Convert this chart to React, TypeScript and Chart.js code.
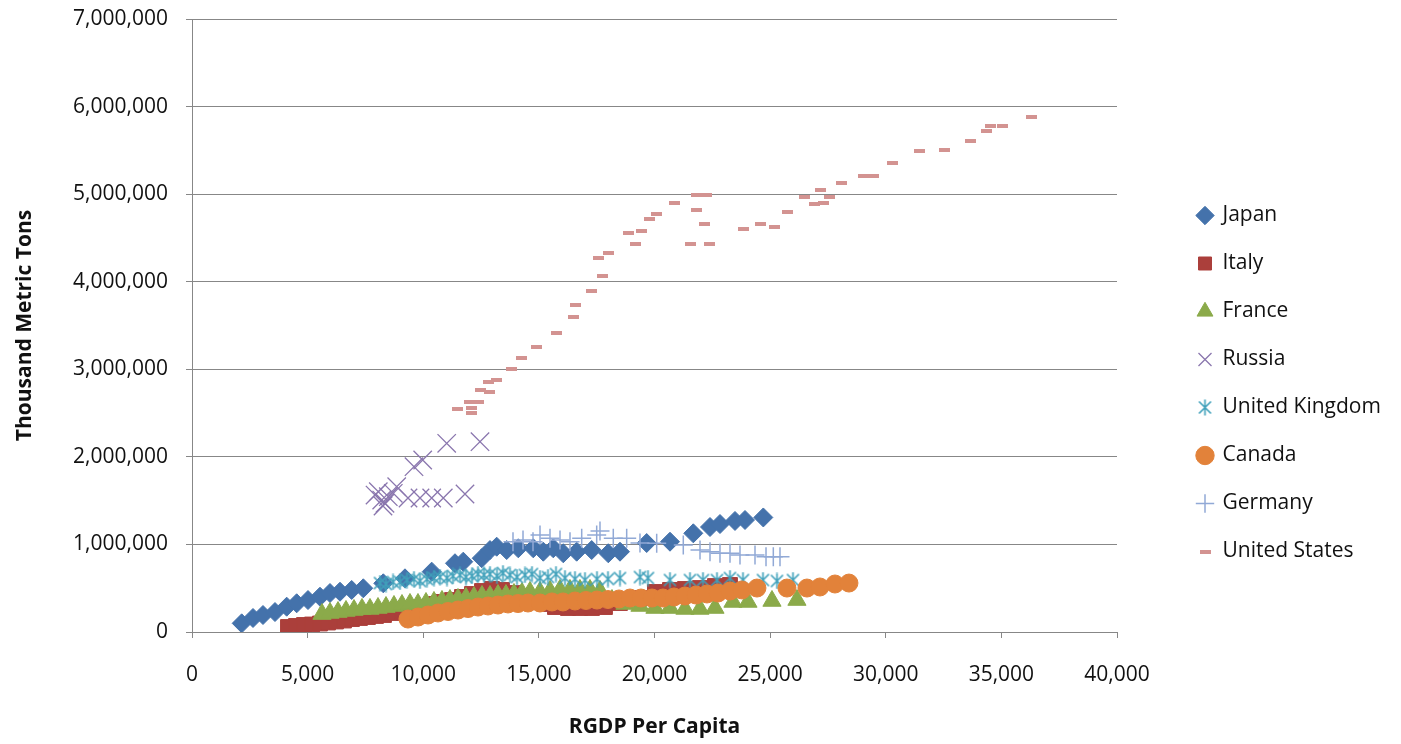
import { useEffect, useRef } from 'react';
import { Chart, registerables } from 'chart.js';

Chart.register(...registerables);

const FONT = '"Open Sans", "DejaVu Sans", sans-serif';

const seriesNames = ['Japan', 'Italy', 'France', 'Russia', 'United Kingdom', 'Canada', 'Germany', 'United States'];

const japanGdp = [2149, 2638, 3070, 3589, 4095, 4527, 5016, 5535, 5967, 6400, 6905, 7407, 8272, 9210, 10365, 11372, 11731, 12527, 12886, 13176, 13608, 14110, 14758, 15191, 15623, 16056, 16635, 17284, 18002, 18508, 19662, 20670, 21678, 22400, 22832, 23481, 23914, 24706];
const japanCo2 = [99000, 160000, 194000, 228000, 289000, 328000, 365000, 403000, 445000, 460000, 480000, 499000, 556000, 613000, 689000, 785000, 803000, 842000, 936000, 974000, 936000, 956000, 956000, 917000, 956000, 899000, 917000, 936000, 899000, 917000, 1016000, 1031000, 1127000, 1199000, 1233000, 1268000, 1279000, 1308000];

const italyGdp = [4151, 4497, 4843, 5189, 5535, 5881, 6227, 6572, 6918, 7264, 7610, 7956, 8302, 8691, 9080, 9513, 9945, 10378, 10810, 11242, 11675, 12107, 12540, 12972, 13404, 13967, 14615, 15264, 15696, 16258, 16777, 17296, 17858, 18507, 19372, 20020, 20669, 21318, 21966, 22615, 23264];
const italyCo2 = [57000, 68500, 80000, 85600, 97000, 108500, 120000, 131000, 148000, 160000, 171000, 183000, 194000, 217000, 240000, 263000, 285000, 320000, 343000, 365000, 400000, 434000, 468000, 491000, 480000, 445000, 388000, 320000, 285000, 274000, 274000, 274000, 285000, 331000, 388000, 457000, 480000, 491000, 502000, 525000, 537000];

const franceGdp = [5621, 5967, 6313, 6659, 7005, 7351, 7697, 8043, 8389, 8734, 9080, 9426, 9772, 10118, 10464, 10810, 11156, 11502, 11848, 12194, 12540, 12886, 13231, 13577, 13923, 14269, 14615, 15048, 15480, 15912, 16345, 16777, 17210, 17642, 18161, 18723, 19372, 20020, 20669, 21317, 21966, 22615, 23393, 24042, 25080, 26160];
const franceCo2 = [205000, 217000, 228000, 240000, 251000, 263000, 263000, 274000, 285000, 297000, 308000, 320000, 320000, 331000, 343000, 354000, 365000, 377000, 388000, 400000, 411000, 411000, 422000, 422000, 434000, 445000, 457000, 457000, 468000, 480000, 480000, 480000, 480000, 468000, 365000, 320000, 297000, 274000, 274000, 263000, 263000, 274000, 343000, 343000, 354000, 365000];

const russiaGdp = [7914, 8056, 8203, 8260, 8346, 8489, 8705, 8852, 9341, 9600, 9860, 9976, 10365, 10867, 11014, 11805, 12454];
const russiaCo2 = [1564000, 1602000, 1507000, 1439000, 1470000, 1545000, 1584000, 1659000, 1530000, 1888000, 1530000, 1964000, 1530000, 1530000, 2155000, 1576000, 2173000];

const ukGdp = [8129, 8389, 8692, 8994, 9297, 9600, 9859, 10161, 10464, 10724, 11026, 11286, 11589, 11848, 12108, 12367, 12627, 12886, 13189, 13448, 13751, 14054, 14400, 14702, 15048, 15394, 15740, 16129, 16561, 16994, 17512, 17988, 18507, 19372, 19717, 20669, 21534, 22096, 22702, 23264, 23826, 24691, 25296, 25988];
const ukCo2 = [559500, 548100, 571000, 571000, 593800, 605200, 582400, 605200, 616600, 628000, 616600, 639500, 650900, 628000, 639500, 662300, 650900, 662300, 639500, 673700, 650900, 628000, 650900, 662300, 616600, 628000, 662300, 616600, 605200, 593800, 605200, 605200, 616600, 628000, 616600, 593800, 593800, 593800, 593800, 616600, 593800, 593800, 582400, 593800];

const canadaGdp = [9340, 9772, 10205, 10637, 11069, 11502, 11934, 12367, 12799, 13231, 13664, 14096, 14529, 15048, 15566, 16042, 16561, 17037, 17512, 17988, 18463, 18939, 19415, 19890, 20366, 20842, 21317, 21793, 22269, 22744, 23263, 23782, 24431, 25728, 26593, 27155, 27804, 28409];
const canadaCo2 = [148000, 171000, 194000, 217000, 234000, 251000, 268000, 285000, 297000, 308000, 320000, 325000, 331000, 331000, 343000, 343000, 354000, 360000, 365000, 371000, 377000, 388000, 388000, 388000, 388000, 400000, 411000, 422000, 434000, 445000, 468000, 480000, 502000, 502000, 502000, 514000, 548000, 559000];

const germanyGdp = [13881, 14314, 14746, 15049, 15481, 15914, 16346, 16852, 17500, 17643, 18218, 18797, 19372, 20095, 21245, 21968, 22400, 22832, 23265, 23697, 24346, 24822, 25138, 25427];
const germanyCo2 = [1031000, 1050000, 1031000, 1108000, 1070000, 1050000, 1031000, 1070000, 1108000, 1153000, 1070000, 1070000, 1016000, 1013000, 993000, 936000, 917000, 899000, 899000, 879000, 879000, 860000, 860000, 860000];

const usGdp = [11473, 11991, 12095, 12095, 12368, 12484, 12886, 12843, 13176, 13795, 14240, 14906, 15741, 16489, 16605, 17284, 17730, 17570, 18002, 18897, 19170, 19446, 19775, 20095, 20886, 21825, 22257, 21825, 22154, 21548, 22370, 23870, 24592, 25181, 25743, 26478, 26927, 27157, 27316, 27559, 28095, 29030, 29462, 30300, 31468, 32519, 33656, 34366, 34539, 35070, 36311];
const usCo2 = [2546000, 2630000, 2561000, 2504000, 2630000, 2767000, 2737000, 2855000, 2878000, 3000000, 3132000, 3251000, 3411000, 3601000, 3734000, 3894000, 4069000, 4274000, 4331000, 4553000, 4434000, 4583000, 4713000, 4773000, 4902000, 4990000, 4990000, 4816000, 4656000, 4434000, 4434000, 4599000, 4656000, 4625000, 4800000, 4971000, 4888000, 5047000, 4902000, 4971000, 5131000, 5211000, 5211000, 5356000, 5489000, 5504000, 5607000, 5721000, 5782000, 5782000, 5884000];

const xTickStep = 5000;
const xMax = 40000;
const yTickStep = 1000000;
const yMax = 7000000;

const pairs = (xs: number[], ys: number[]) => xs.map((x, i) => ({ x, y: ys[i] }));
const fmt = (v: number | string) => Number(v).toLocaleString('en-US');

function makeAsterisk(color: string) {
  const c = document.createElement('canvas');
  c.width = 17;
  c.height = 17;
  const g = c.getContext('2d')!;
  g.strokeStyle = color;
  g.lineWidth = 1.6;
  g.beginPath();
  g.moveTo(2.5, 2.5); g.lineTo(14.5, 14.5);
  g.moveTo(14.5, 2.5); g.lineTo(2.5, 14.5);
  g.moveTo(8.5, 0.5); g.lineTo(8.5, 16.5);
  g.stroke();
  return c;
}

function makeDash(color: string) {
  const c = document.createElement('canvas');
  c.width = 11;
  c.height = 4;
  const g = c.getContext('2d')!;
  g.fillStyle = color;
  g.fillRect(0, 0, 11, 4);
  return c;
}

const LEGEND_WIDTH = 284;
const LEGEND_SHIFT_X = 54;
const LEGEND_SHIFT_Y = 2;

const legendPlacer = {
  id: 'legendPlacer',
  beforeLayout(chart: any) {
    const lg = chart.legend;
    if (lg && !lg.__patched) {
      const orig = lg.fit.bind(lg);
      lg.fit = function () {
        orig();
        this.width = LEGEND_WIDTH;
      };
      lg.__patched = true;
    }
  },
  afterLayout(chart: any) {
    const lg = chart.legend;
    if (lg) {
      lg.left += LEGEND_SHIFT_X;
      lg.right += LEGEND_SHIFT_X;
      lg.top += LEGEND_SHIFT_Y;
      lg.bottom += LEGEND_SHIFT_Y;
    }
  },
};

export default function App() {
  const ref = useRef<HTMLCanvasElement>(null);

  useEffect(() => {
    if (!ref.current) return;
    const colors = ['#4472AB', '#AB3F3B', '#8BAA4A', '#8A76AE', '#3FA0BA', '#E2823A', '#91A9D6', '#D39391'];
    const ukStar = makeAsterisk(colors[4]);
    const usDash = makeDash(colors[7]);

    const base = (i: number, data: { x: number; y: number }[]) => ({
      label: seriesNames[i],
      data,
      backgroundColor: colors[i],
      borderColor: colors[i],
      pointBackgroundColor: colors[i],
      pointBorderColor: colors[i],
      borderWidth: 1,
      pointBorderWidth: 1,
      order: 8 - i,
    });

    const datasets: any[] = [
      { ...base(0, pairs(japanGdp, japanCo2)), pointStyle: 'rectRot', pointRadius: 9.5, pointHoverRadius: 9.5 },
      { ...base(1, pairs(italyGdp, italyCo2)), pointStyle: 'rect', pointRadius: 10.5, pointHoverRadius: 10.5 },
      { ...base(2, pairs(franceGdp, franceCo2)), pointStyle: 'triangle', pointRadius: 10.5, pointHoverRadius: 10.5 },
      { ...base(3, pairs(russiaGdp, russiaCo2)), pointStyle: 'crossRot', pointRadius: 13, pointHoverRadius: 13, borderWidth: 1.3, pointBorderWidth: 1.3 },
      { ...base(4, pairs(ukGdp, ukCo2)), pointStyle: ukStar, pointRadius: 8, pointHoverRadius: 8 },
      { ...base(5, pairs(canadaGdp, canadaCo2)), pointStyle: 'circle', pointRadius: 9, pointHoverRadius: 9 },
      { ...base(6, pairs(germanyGdp, germanyCo2)), pointStyle: 'cross', pointRadius: 9.5, pointHoverRadius: 9.5, borderWidth: 1.5, pointBorderWidth: 1.5 },
      { ...base(7, pairs(usGdp, usCo2)), pointStyle: usDash, pointRadius: 5, pointHoverRadius: 5 },
    ];

    const gridColor = '#878787';

    const chart = new Chart(ref.current, {
      type: 'scatter',
      data: { datasets },
      plugins: [legendPlacer],
      options: {
        animation: false,
        responsive: true,
        maintainAspectRatio: false,
        layout: { padding: { top: 19, left: 0, right: 0, bottom: 0 } },
        font: { family: FONT },
        plugins: {
          tooltip: { enabled: false },
          legend: {
            position: 'right',
            labels: {
              usePointStyle: true,
              boxWidth: 14,
              boxHeight: 13,
              padding: 27,
              color: '#111',
              font: { family: FONT, size: 21 },
              sort: (a: any, b: any) => a.datasetIndex - b.datasetIndex,
            },
          },
        },
        scales: {
          x: {
            type: 'linear',
            min: 0,
            max: xMax,
            ticks: {
              stepSize: xTickStep,
              padding: 24,
              color: '#111',
              font: { family: FONT, size: 21 },
              callback: (v: any) => fmt(v),
            },
            grid: { drawOnChartArea: false, drawTicks: true, tickLength: 6, color: gridColor },
            border: { display: true, color: gridColor, width: 1 },
            title: {
              display: true,
              text: 'RGDP Per Capita',
              color: '#111',
              font: { family: FONT, size: 21, weight: 'bold' },
              padding: { top: 0, bottom: 4 },
            },
            afterFit: (s: any) => { s.height = 112; },
          },
          y: {
            type: 'linear',
            min: 0,
            max: yMax,
            ticks: {
              stepSize: yTickStep,
              padding: 18,
              color: '#111',
              font: { family: FONT, size: 21 },
              callback: (v: any) => fmt(v),
            },
            grid: { drawOnChartArea: true, drawTicks: true, tickLength: 6, color: gridColor },
            border: { display: true, color: gridColor, width: 1 },
            title: {
              display: true,
              text: 'Thousand Metric Tons',
              color: '#111',
              font: { family: FONT, size: 21, weight: 'bold' },
              padding: { top: 12, bottom: 0 },
            },
            afterFit: (s: any) => { s.width = 192; s.paddingTop = 0; s.paddingBottom = 0; },
          },
        },
      } as any,
    });

    return () => chart.destroy();
  }, []);

  return (
    <div style={{ position: 'absolute', left: 0, top: 0, width: 1401, height: 744, background: '#fff' }}>
      <canvas ref={ref} />
    </div>
  );
}
